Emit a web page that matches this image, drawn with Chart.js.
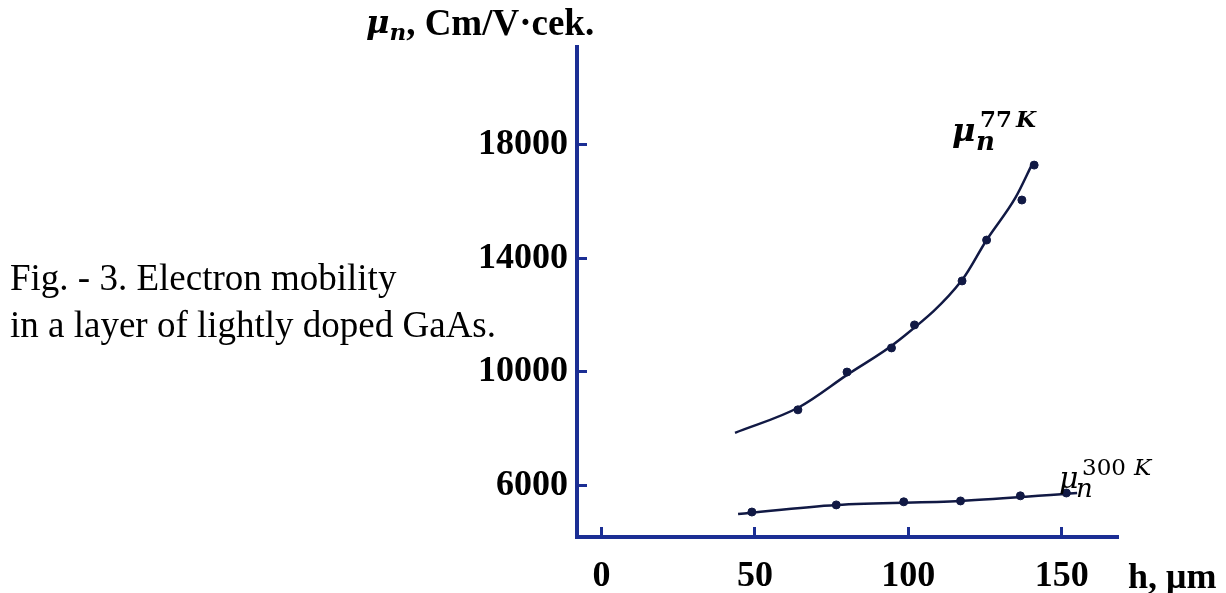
<!DOCTYPE html>
<html>
<head>
<meta charset="utf-8">
<title>Electron mobility in GaAs</title>
<script src="https://cdn.jsdelivr.net/npm/chart.js@4"></script>
<style>
  html, body { margin: 0; padding: 0; background: #fff; }
  canvas { display: block; }
</style>
</head>
<body>
<canvas id="mobilityChart" width="1226" height="593"></canvas>
<script>
// layer thickness h (um) and mobility (cm2/V*s)
const h77 = [64, 80, 94.5, 102, 117.5, 125.5, 137, 141];
const mu77 = [8660, 9990, 10840, 11650, 13200, 14640, 16050, 17280];
// the hand drawn curve through the 77 K points
const h77Curve = [43.5, 64.5, 80, 97, 117.5, 125.5, 135, 140.5];
const mu77Curve = [7850, 8760, 9890, 11120, 13230, 14640, 16150, 17350];

const h300 = [49, 76.5, 98.5, 117, 136.5, 151.5];
const mu300 = [5060, 5310, 5420, 5450, 5630, 5730];
const h300Curve = [44.5, 76.5, 117, 155];
const mu300Curve = [4990, 5310, 5450, 5730];

const xTicks = [0, 50, 100, 150];
const yTicks = [6000, 10000, 14000, 18000];

const ink = "#111944";
const axisBlue = "#1b2e94";
const serif = "'Liberation Serif', 'Times New Roman', serif";
const mathFont = "'DejaVu Serif', serif";

const toXY = (xs, ys) => xs.map((x, i) => ({ x: x, y: ys[i] }));

// captions, axis titles and curve labels
const annotations = {
  id: "annotations",
  afterDraw(chart) {
    const c = chart.ctx;
    c.save();
    c.fillStyle = "#000";
    c.textBaseline = "alphabetic";
    c.textAlign = "left";

    c.font = "37px " + serif;
    c.fillText("Fig. - 3. Electron mobility", 10, 290);
    c.fillText("in a layer of lightly doped GaAs.", 10, 337);

    // y axis title
    c.font = "italic bold 32px " + mathFont;
    c.fillText("μ", 366, 33);
    let x = 366 + c.measureText("μ").width;
    c.font = "italic bold 23px " + mathFont;
    c.fillText("n", x, 40);
    x += c.measureText("n").width;
    c.font = "bold 37px " + serif;
    c.fillText(", Cm/V·cek.", x, 35);

    // x axis title
    c.font = "bold 36px " + serif;
    c.fillText("h, μm", 1128, 588);

    // 77 K label
    c.font = "italic bold 32px " + mathFont;
    c.fillText("μ", 952, 141);
    c.font = "italic bold 26px " + mathFont;
    c.fillText("n", 976, 150);
    c.font = "bold 23px " + mathFont;
    c.fillText("77 ", 980, 127);
    c.font = "italic bold 23px " + mathFont;
    c.fillText("K", 1016, 127);

    // 300 K label
    c.font = "italic 30px " + mathFont;
    c.fillText("μ", 1059, 488);
    c.font = "italic 26px " + mathFont;
    c.fillText("n", 1076, 497);
    c.font = "23px " + mathFont;
    c.fillText("300 ", 1082, 475);
    c.font = "italic 23px " + mathFont;
    c.fillText("K", 1134, 475);
    c.restore();
  }
};

const tickFont = { family: serif, size: 36, weight: "bold" };

new Chart(document.getElementById("mobilityChart"), {
  type: "scatter",
  data: {
    datasets: [
      {
        label: "77 K curve",
        data: toXY(h77Curve, mu77Curve),
        showLine: true,
        pointRadius: 0,
        borderColor: ink,
        borderWidth: 2.5,
        cubicInterpolationMode: "monotone",
      },
      {
        label: "77 K",
        data: toXY(h77, mu77),
        pointRadius: 4,
        backgroundColor: ink,
        borderColor: ink,
      },
      {
        label: "300 K curve",
        data: toXY(h300Curve, mu300Curve),
        showLine: true,
        pointRadius: 0,
        borderColor: ink,
        borderWidth: 2.5,
        cubicInterpolationMode: "monotone",
      },
      {
        label: "300 K",
        data: toXY(h300, mu300),
        pointRadius: 4,
        backgroundColor: ink,
        borderColor: ink,
      },
    ],
  },
  options: {
    responsive: false,
    animation: false,
    devicePixelRatio: 1,
    layout: { padding: { top: 47, right: 109, left: 0, bottom: 0 } },
    plugins: {
      legend: { display: false },
      tooltip: { enabled: false },
    },
    scales: {
      x: {
        type: "linear",
        min: -8,
        max: 168,
        afterBuildTicks: (s) => { s.ticks = xTicks.map((v) => ({ value: v })); },
        afterFit: (s) => { s.height = 56; },
        border: { color: axisBlue, width: 4 },
        grid: { drawOnChartArea: false, color: axisBlue, lineWidth: 3, tickLength: -10 },
        ticks: {
          color: "#000",
          padding: 28,
          maxRotation: 0,
          autoSkip: false,
          font: tickFont,
          callback: (v) => String(v),
        },
      },
      y: {
        type: "linear",
        min: 4180,
        max: 21440,
        afterBuildTicks: (s) => { s.ticks = yTicks.map((v) => ({ value: v })); },
        afterFit: (s) => { s.width = 577; },
        border: { color: axisBlue, width: 4 },
        grid: { drawOnChartArea: false, color: axisBlue, lineWidth: 3, tickLength: -10 },
        ticks: {
          color: "#000",
          padding: 19,
          autoSkip: false,
          font: tickFont,
          callback: (v) => String(v),
        },
      },
    },
  },
  plugins: [annotations],
});
</script>
</body>
</html>
